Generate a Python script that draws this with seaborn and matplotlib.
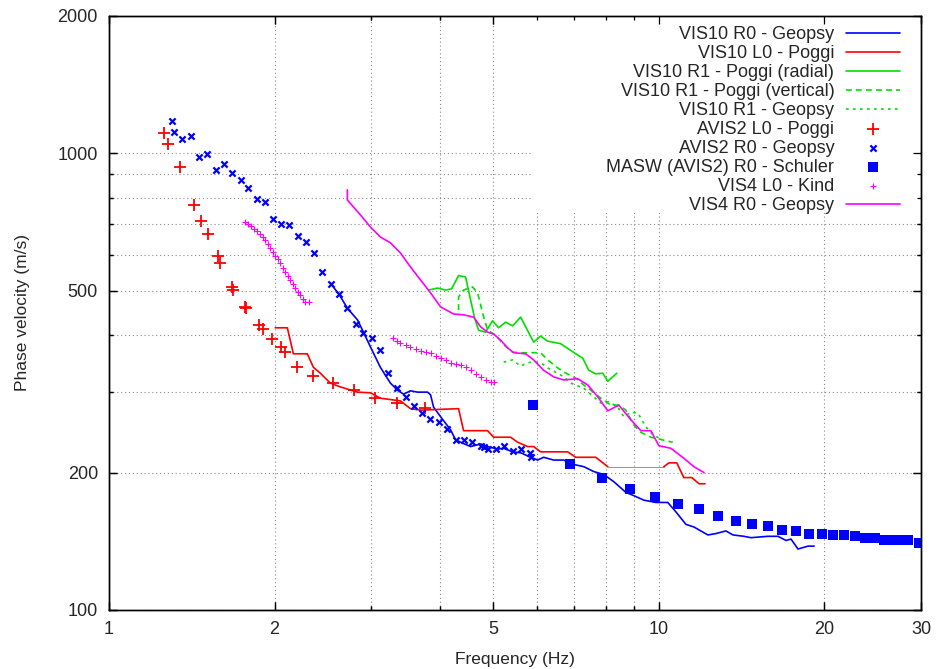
import numpy as np
import pandas as pd
import seaborn as sns
import matplotlib
matplotlib.use("Agg")
import matplotlib.pyplot as plt
from matplotlib.patches import Rectangle
from matplotlib.ticker import NullFormatter

# VIS10 R0 - Geopsy
vis10_r0_geopsy_f = [2.526, 2.624, 2.713, 2.830, 2.902, 2.988, 3.115, 3.249, 3.346, 3.432, 3.534, 3.640,
                     3.796, 3.844, 3.893, 4.009, 4.180, 4.268, 4.395, 4.545, 4.740, 4.881, 5.090, 5.220,
                     5.420, 5.605, 5.845, 6.019, 6.172, 6.437, 6.714, 6.914, 7.302, 7.613, 7.940, 8.279,
                     8.708, 9.004, 9.391, 9.874, 10.38, 10.74, 11.20, 11.58, 12.28, 12.70, 13.24, 13.64,
                     14.28, 14.71, 15.79, 16.47, 17.03, 17.39, 17.91, 18.68, 19.16]
vis10_r0_geopsy_v = [520, 490, 458, 432, 406, 377, 340, 314, 303, 297, 302, 300,
                     300, 296, 278, 265, 248, 236, 232, 228, 231, 228, 225, 226,
                     222, 221, 216, 213, 216, 213, 213, 209, 206, 201, 198, 191,
                     181, 178, 174, 172, 172, 164, 154, 152, 146, 147, 149, 146,
                     145, 144, 145, 145, 142, 143, 136, 138, 138]

# VIS10 L0 - Poggi (main part, then the thin bridge, then the tail)
vis10_l0_poggi_f = [2.006, 2.110, 2.164, 2.294, 2.353, 2.423, 2.526, 2.635, 2.830, 2.988, 3.115, 3.389,
                    3.534, 3.687, 4.322, 4.414, 4.881, 5.006, 5.375, 5.535, 5.772, 5.919, 6.095, 6.827,
                    7.061, 7.677, 8.074]
vis10_l0_poggi_v = [415, 415, 364, 364, 340, 330, 314, 308, 300, 299, 291, 287,
                    276, 274, 276, 247, 247, 239, 239, 233, 228, 228, 222, 222,
                    216, 216, 206]
vis10_l0_gap_f = [8.074, 10.21]
vis10_l0_gap_v = [206, 206]
vis10_l0_tail_f = [10.21, 10.43, 10.78, 11.10, 11.48, 11.83, 12.13]
vis10_l0_tail_v = [206, 210, 210, 195, 195, 189, 189]

# VIS10 R1 - Poggi (radial)
vis10_r1_radial_f = [3.812, 3.959, 4.093, 4.198, 4.322, 4.451, 4.622, 4.700, 4.840, 4.984, 5.111, 5.264,
                     5.420, 5.605, 5.919, 6.095, 6.276, 6.629, 7.061, 7.272, 7.456, 7.677, 7.907, 8.074,
                     8.385]
vis10_r1_radial_v = [502, 507, 502, 505, 540, 536, 436, 410, 406, 430, 415, 427,
                     419, 438, 386, 398, 388, 383, 364, 356, 335, 329, 330, 317,
                     330]

# VIS10 R1 - Poggi (vertical)
vis10_r1_vertical_f = [4.322, 4.322, 4.414, 4.583, 4.681, 4.780, 4.881, 5.048, 5.220, 5.420, 5.605, 5.919,
                       6.095, 6.276, 6.546, 6.714, 7.061, 7.302, 7.518, 7.841, 8.178, 8.455, 8.708, 9.004,
                       9.273, 9.670, 10.60]
vis10_r1_vertical_v = [454, 485, 502, 510, 495, 447, 410, 400, 381, 367, 366, 366,
                       366, 353, 339, 332, 322, 311, 303, 291, 281, 281, 274, 254,
                       245, 239, 233]

# VIS10 R1 - Geopsy
vis10_r1_geopsy_f = [5.220, 5.420, 5.605, 5.772, 5.919, 6.095, 6.276, 6.546, 6.714, 6.914, 7.302, 7.613,
                     7.841, 8.108, 8.420, 8.636, 8.893, 9.157, 9.469, 9.752, 10.0]
vis10_r1_geopsy_v = [349, 353, 342, 348, 349, 348, 339, 330, 324, 314, 306, 293,
                     284, 286, 278, 265, 271, 270, 252, 242, 238]

# AVIS2 L0 - Poggi
avis2_l0_poggi_f = [1.259, 1.281, 1.347, 1.428, 1.471, 1.514, 1.579, 1.593, 1.675, 1.682, 1.769, 1.777,
                    1.876, 1.908, 1.981, 2.057, 2.092, 2.200, 2.353, 2.559, 2.795, 3.051, 3.346, 3.749]
avis2_l0_poggi_v = [1108, 1048, 933, 771, 711, 666, 596, 575, 510, 502, 461, 458,
                    421, 413, 392, 377, 367, 340, 326, 314, 303, 291, 284, 277]

# AVIS2 R0 - Geopsy
avis2_r0_geopsy_f = [1.302, 1.313, 1.358, 1.411, 1.458, 1.508, 1.566, 1.620, 1.675, 1.740, 1.792, 1.860,
                     1.924, 1.989, 2.057, 2.128, 2.210, 2.285, 2.363, 2.443, 2.537, 2.624, 2.713, 2.818,
                     2.902, 3.013, 3.115, 3.222, 3.346, 3.461, 3.579, 3.702, 3.828, 3.976, 4.111, 4.268,
                     4.414, 4.564, 4.740, 4.800, 4.881, 5.048, 5.220, 5.420, 5.605, 5.821, 5.845]
avis2_r0_geopsy_v = [1178, 1114, 1075, 1092, 982, 997, 919, 948, 906, 874, 840, 794,
                     783, 718, 701, 697, 659, 640, 605, 550, 517, 492, 458, 423,
                     404, 394, 371, 330, 306, 293, 280, 270, 262, 258, 249, 236,
                     236, 233, 229, 228, 225, 225, 229, 223, 225, 221, 216]

# MASW (AVIS2) R0 - Schuler
masw_schuler_f = [5.894, 6.885, 7.873, 8.855, 9.833, 10.83, 11.83, 12.81, 13.81, 14.77, 15.79, 16.75,
                  17.76, 18.76, 19.81, 20.75, 21.73, 22.75, 23.73, 24.74, 25.70, 26.69, 27.72, 28.42,
                  29.76]
masw_schuler_v = [281, 209, 195, 184, 177, 171, 166, 161, 157, 154, 153, 150,
                  149, 147, 147, 146, 146, 145, 144, 144, 142, 142, 142, 142,
                  140]

# VIS4 L0 - Kind
vis4_l0_kind_f = [1.769, 1.792, 1.814, 1.837, 1.860, 1.884, 1.908, 1.924, 1.948, 1.965, 1.989, 2.006,
                  2.031, 2.049, 2.075, 2.092, 2.119, 2.137, 2.164, 2.182, 2.210, 2.228, 2.256, 2.275,
                  2.314,
                  3.290, 3.346, 3.389, 3.461, 3.534, 3.609, 3.687, 3.764, 3.844, 3.925, 4.009, 4.093,
                  4.180, 4.268, 4.359, 4.451, 4.545, 4.642, 4.740, 4.840, 4.943, 5.006]
vis4_l0_kind_v = [707, 701, 693, 683, 676, 666, 656, 646, 633, 620, 608, 596,
                  587, 575, 561, 550, 539, 528, 517, 507, 497, 490, 480, 472,
                  472,
                  394, 388, 385, 381, 377, 373, 369, 367, 366, 360, 356, 353,
                  348, 346, 344, 340, 335, 329, 324, 319, 316, 316]

# VIS4 R0 - Geopsy
vis4_r0_geopsy_f = [2.713, 2.713, 2.783, 2.866, 2.988, 3.115, 3.249, 3.389, 3.534, 3.687, 3.844, 4.009,
                    4.233, 4.414, 4.603, 4.740, 4.881, 5.006, 5.154, 5.309, 5.443, 5.724, 5.919, 6.172,
                    6.437, 6.714, 7.120, 7.425, 7.742, 8.074, 8.455, 8.893, 9.273, 9.670, 10.0, 10.52,
                    11.10, 11.58, 12.08]
vis4_r0_geopsy_v = [832, 791, 763, 733, 690, 656, 637, 605, 564, 528, 495, 461,
                    445, 443, 438, 417, 406, 402, 390, 375, 366, 364, 353, 335,
                    324, 319, 321, 311, 293, 273, 281, 261, 247, 247, 229, 226,
                    215, 206, 200]

legend_order = ["VIS10 R0 - Geopsy", "VIS10 L0 - Poggi", "VIS10 R1 - Poggi (radial)",
                "VIS10 R1 - Poggi (vertical)", "VIS10 R1 - Geopsy", "AVIS2 L0 - Poggi",
                "AVIS2 R0 - Geopsy", "MASW (AVIS2) R0 - Schuler", "VIS4 L0 - Kind",
                "VIS4 R0 - Geopsy"]

xticks = [1, 2, 5, 10, 20, 30]
xticks_minor = [3, 4, 6, 7, 8, 9]
yticks = [100, 200, 500, 1000, 2000]
yticks_minor = [300, 400, 600, 700, 800, 900]

sns.set_style("ticks")
plt.rcParams['font.family'] = ['Liberation Sans', 'DejaVu Sans']

fig = plt.figure(figsize=(9.4, 6.69), dpi=100)
pos = [0.116, 0.0882, 0.864, 0.888]
ax = fig.add_axes(pos)
ax.set_xscale('log')
ax.set_yscale('log')

BLUE, RED, GREEN, MAGENTA = '#0000ff', '#ff0000', '#00e000', '#ff00ff'


def line(f, v, color, label=None, dashes=None, lw=1.2, alpha=1.0):
    df = pd.DataFrame({'f': f, 'v': v})
    sns.lineplot(data=df, x='f', y='v', sort=False, estimator=None, color=color,
                 linewidth=lw, label=label, ax=ax, alpha=alpha, legend=label is not None)
    if dashes is not None:
        ax.lines[-1].set_dashes(dashes)


def points(f, v, color, marker, size, lw, label):
    df = pd.DataFrame({'f': f, 'v': v})
    sns.scatterplot(data=df, x='f', y='v', color=color, marker=marker, s=size,
                    linewidth=lw, label=label, ax=ax, zorder=3)


line(vis10_r0_geopsy_f, vis10_r0_geopsy_v, BLUE, "VIS10 R0 - Geopsy")
line(vis10_l0_poggi_f, vis10_l0_poggi_v, RED, "VIS10 L0 - Poggi")
line(vis10_l0_gap_f, vis10_l0_gap_v, RED, lw=0.7, alpha=0.6)
line(vis10_l0_tail_f, vis10_l0_tail_v, RED)
line(vis10_r1_radial_f, vis10_r1_radial_v, GREEN, "VIS10 R1 - Poggi (radial)")
line(vis10_r1_vertical_f, vis10_r1_vertical_v, GREEN, "VIS10 R1 - Poggi (vertical)", dashes=(3.5, 2.5))
line(vis10_r1_geopsy_f, vis10_r1_geopsy_v, GREEN, "VIS10 R1 - Geopsy", dashes=(1.6, 2.6))
points(avis2_l0_poggi_f, avis2_l0_poggi_v, RED, '+', 75, 1.3, "AVIS2 L0 - Poggi")
points(avis2_r0_geopsy_f, avis2_r0_geopsy_v, BLUE, 'x', 20, 1.6, "AVIS2 R0 - Geopsy")
points(masw_schuler_f, masw_schuler_v, BLUE, 's', 45, 0, "MASW (AVIS2) R0 - Schuler")
points(vis4_l0_kind_f, vis4_l0_kind_v, MAGENTA, '+', 14, 0.8, "VIS4 L0 - Kind")
line(vis4_r0_geopsy_f, vis4_r0_geopsy_v, MAGENTA, "VIS4 R0 - Geopsy")


def set_ticks(a):
    a.set_xscale('log')
    a.set_yscale('log')
    a.set_xlim(1, 30)
    a.set_ylim(100, 2000)
    a.set_xticks(xticks, labels=[str(t) for t in xticks])
    a.set_xticks(xticks_minor, minor=True)
    a.set_yticks(yticks, labels=[str(t) for t in yticks])
    a.set_yticks(yticks_minor, minor=True)
    a.xaxis.set_minor_formatter(NullFormatter())
    a.yaxis.set_minor_formatter(NullFormatter())
    a.tick_params(which='both', direction='in', top=True, right=True, width=0.9, color='black')
    a.tick_params(which='major', length=6, labelsize=13, pad=8)
    a.tick_params(which='minor', length=3)
    for s in a.spines.values():
        s.set_linewidth(1.0)
        s.set_color('black')


set_ticks(ax)
ax.grid(which='both', color='#8a8a8a', linestyle=(0, (1, 2.5)), linewidth=0.8)

# gnuplot-style key: an opaque box hiding the grid, border ticks drawn over it
ax.add_patch(Rectangle((0.522, 0.668), 0.477, 0.331, transform=ax.transAxes,
                       facecolor='white', edgecolor='none', zorder=1.6))

ax.set_xlabel('Frequency (Hz)', fontsize=12.5, labelpad=10)
ax.set_ylabel('Phase velocity (m/s)', fontsize=12.5, labelpad=20)

handles, labels = ax.get_legend_handles_labels()
lookup = dict(zip(labels, handles))
leg = ax.legend([lookup[l] for l in legend_order], legend_order, loc='upper right',
                bbox_to_anchor=(0.983, 0.995), borderaxespad=0, markerfirst=False,
                fontsize=13, handlelength=3.0, handletextpad=0.65, labelspacing=0.11,
                borderpad=0.4, frameon=False, scatterpoints=1)

# overlay axes carrying only the border and ticks
ax2 = fig.add_axes(pos, zorder=ax.get_zorder() + 1)
set_ticks(ax2)
ax2.patch.set_visible(False)
ax2.tick_params(which='both', labelbottom=False, labelleft=False)

fig.savefig('out.png', dpi=100)
